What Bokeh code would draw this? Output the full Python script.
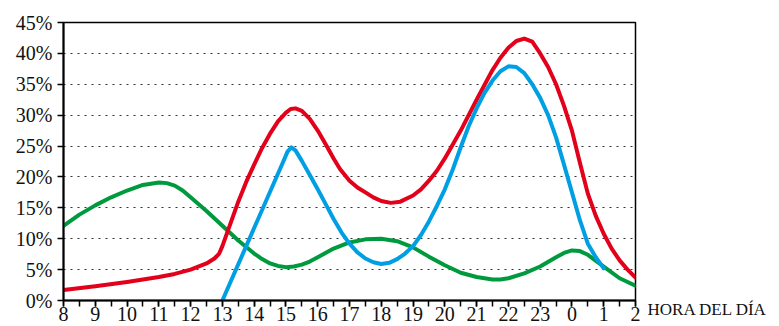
from bokeh.plotting import figure
from bokeh.models import FixedTicker, LinearAxis
from bokeh.embed import file_html
from bokeh.resources import INLINE

hour_labels = ["8", "9", "10", "11", "12", "13", "14", "15", "16", "17", "18",
               "19", "20", "21", "22", "23", "0", "1", "2"]
x_title = "HORA DEL DÍA"

# x = hours after 8:00 (position along the axis), y = percent
red_x = [0, 1, 2, 3, 3.5, 4, 4.5, 4.75, 4.9, 5.0, 5.25, 5.5, 5.75, 6.0, 6.25,
         6.5, 6.75, 7.0, 7.15, 7.3, 7.5, 7.75, 8.0, 8.25, 8.5, 8.7, 9.0, 9.25,
         9.5, 9.75, 10.0, 10.3, 10.6, 11.0, 11.25, 11.5, 11.75, 12.0, 12.5,
         13.0, 13.5, 13.75, 14.0, 14.25, 14.5, 14.75, 15.0, 15.25, 15.5, 15.75,
         16.0, 16.25, 16.5, 16.75, 17.0, 17.25, 17.5, 17.75, 18.0]
red = [1.7, 2.3, 3.0, 3.8, 4.3, 5.0, 6.0, 6.8, 7.6, 8.8, 12.4, 16.0, 19.2, 22.0,
       24.7, 27.0, 29.0, 30.4, 31.0, 31.1, 30.7, 29.4, 27.5, 25.3, 23.0, 21.3,
       19.4, 18.3, 17.5, 16.7, 16.1, 15.8, 16.0, 17.0, 18.0, 19.4, 21.0, 23.0,
       27.5, 32.5, 37.3, 39.3, 40.9, 42.0, 42.4, 41.9, 40.0, 37.8, 35.0, 31.5,
       27.5, 22.3, 17.3, 13.7, 10.8, 8.4, 6.5, 5.0, 3.7]

blue_x = [5.0, 6.9, 7.05, 7.17, 7.3, 7.5, 7.75, 8.0, 8.25, 8.5, 8.75, 9.0, 9.25,
          9.5, 9.75, 10.0, 10.25, 10.5, 10.75, 11.0, 11.25, 11.5, 11.75, 12.0,
          12.25, 12.5, 12.75, 13.0, 13.25, 13.5, 13.75, 14.0, 14.25, 14.5, 14.75,
          15.0, 15.25, 15.5, 15.75, 16.0, 16.25, 16.5, 16.75, 17.0]
blue = [0.0, 22.3, 24.1, 24.8, 24.3, 22.6, 20.3, 18.0, 15.6, 13.2, 11.0, 9.2,
        7.8, 6.8, 6.2, 5.9, 6.1, 6.7, 7.6, 8.8, 10.6, 12.8, 15.3, 18.0, 21.2,
        24.8, 28.2, 31.1, 33.6, 35.6, 37.1, 37.9, 37.8, 36.8, 35.0, 32.8, 30.0,
        26.4, 22.0, 17.5, 13.0, 9.2, 7.0, 5.2]

green_x = [0, 0.5, 1.0, 1.5, 2.0, 2.5, 3.0, 3.25, 3.5, 3.75, 4.0, 4.5, 5.0, 5.5,
           6.0, 6.25, 6.5, 6.75, 7.0, 7.25, 7.5, 7.75, 8.0, 8.5, 9.0, 9.5, 10.0,
           10.5, 11.0, 11.5, 12.0, 12.5, 13.0, 13.5, 13.75, 14.0, 14.5, 15.0,
           15.5, 15.75, 16.0, 16.25, 16.5, 17.0, 17.5, 18.0]
green = [12.1, 13.9, 15.4, 16.7, 17.8, 18.7, 19.1, 19.0, 18.6, 17.8, 16.7, 14.5,
         12.1, 9.7, 7.6, 6.7, 6.0, 5.6, 5.4, 5.5, 5.8, 6.3, 7.0, 8.4, 9.4, 9.9,
         10.0, 9.6, 8.6, 7.1, 5.7, 4.5, 3.8, 3.4, 3.4, 3.6, 4.4, 5.5, 7.0, 7.7,
         8.1, 8.0, 7.4, 5.5, 3.6, 2.4]

y_ticks = [0, 5, 10, 15, 20, 25, 30, 35, 40, 45]

FONT = "Liberation Serif"

p = figure(frame_width=572, frame_height=278, output_backend="svg",
           toolbar_location=None, x_range=(0, 18), y_range=(0, 45),
           min_border_left=63, min_border_top=22, min_border_right=138,
           min_border_bottom=0)
p.background_fill_color = None
p.border_fill_color = "white"
p.outline_line_color = "black"
p.outline_line_width = 1.5

lw = 4
p.line(green_x, green, line_color="#009a3e", line_width=lw, line_join="round", line_cap="round")
p.line(red_x, red, line_color="#e2001a", line_width=lw, line_join="round", line_cap="round")
p.line(blue_x, blue, line_color="#009fe3", line_width=lw, line_join="round", line_cap="round")

p.xgrid.visible = False
p.ygrid.ticker = FixedTicker(ticks=y_ticks)
p.ygrid.grid_line_color = "#333333"
p.ygrid.grid_line_dash = "2 5"
p.ygrid.grid_line_width = 1.2

xa = p.xaxis[0]
xa.ticker = FixedTicker(ticks=list(range(19)), minor_ticks=[i / 2 for i in range(37)])
xa.major_label_overrides = {i: lab for i, lab in enumerate(hour_labels)}
xa.major_tick_out = 6
xa.major_tick_in = 0
xa.minor_tick_out = 6
xa.minor_tick_in = 0
xa.axis_line_width = 2
xa.major_tick_line_width = 1.5
xa.minor_tick_line_width = 1.5
xa.major_label_standoff = 0
xa.major_label_text_font = FONT
xa.major_label_text_font_size = "20px"
xa.major_label_text_color = "#111111"

ya = p.yaxis[0]
ya.ticker = FixedTicker(ticks=y_ticks)
ya.major_label_overrides = {t: f"{t}%" for t in y_ticks}
ya.minor_tick_line_color = None
ya.major_tick_out = 6
ya.major_tick_in = 0
ya.axis_line_width = 2
ya.major_tick_line_width = 1.5
ya.major_label_standoff = 5
ya.major_label_text_font = FONT
ya.major_label_text_font_size = "20px"
ya.major_label_text_color = "#111111"

# axis title placed beside the right end of the x axis, via a bare right axis;
# the leading blank line pushes the text just below the x axis level
ra = LinearAxis(ticker=FixedTicker(ticks=[0]), major_label_overrides={0: "\n" + x_title})
ra.axis_line_color = None
ra.major_tick_line_color = None
ra.minor_tick_line_color = None
ra.major_tick_out = 0
ra.major_tick_in = 0
ra.major_label_standoff = 12
ra.major_label_text_font = FONT
ra.major_label_text_font_size = "17px"
ra.major_label_text_line_height = 0.95
ra.major_label_text_color = "#111111"
p.add_layout(ra, "right")

open("out.html", "w").write(file_html(p, INLINE))
